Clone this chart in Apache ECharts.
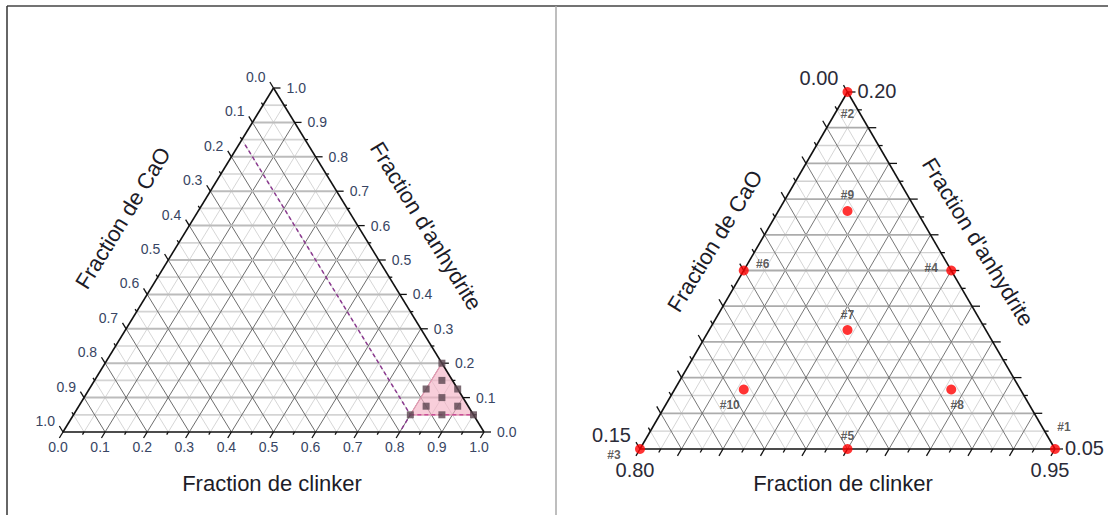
<!DOCTYPE html>
<html><head><meta charset="utf-8">
<script src="https://cdn.jsdelivr.net/npm/echarts@6/dist/echarts.min.js"></script>
<style>html,body{margin:0;padding:0;background:#fff}#chart{width:1108px;height:515px}</style>
</head><body><div id="chart"></div>
<script>
// ---------------- data ----------------
const pointNames = ['#1','#2','#3','#4','#5','#6','#7','#8','#9','#10'];
const clinker    = [0.95, 0.80, 0.80, 0.875, 0.875, 0.80, 0.85, 0.90, 0.825, 0.825];
const cao        = [0.00, 0.00, 0.15, 0.00, 0.075, 0.075, 0.05, 0.025, 0.025, 0.10];
const anhydrite  = [0.05, 0.20, 0.05, 0.125, 0.05, 0.125, 0.10, 0.075, 0.15, 0.075];

// tick labels, full diagram (same for all three axes)
const fullTickLabels = ['0.0','0.1','0.2','0.3','0.4','0.5','0.6','0.7','0.8','0.9','1.0'];
// tick labels, zoomed diagram
const zoomClinkerLabels   = ['0.80','0.95'];
const zoomCaoLabels       = ['0.00','0.15'];
const zoomAnhydriteLabels = ['0.05','0.20'];

// highlighted domain on the full diagram (vertices)
const regionClinker   = [0.80, 0.80, 0.95];
const regionCao       = [0.00, 0.15, 0.00];
const regionAnhydrite = [0.20, 0.05, 0.05];

// dashed boundary on the full diagram
const boundaryClinker   = [0.015, 0.80, 0.80];
const boundaryCao       = [0.15, 0.15, 0.20];
const boundaryAnhydrite = [0.835, 0.05, 0.00];

const titleClinker = 'Fraction de clinker';
const titleCaO = 'Fraction de CaO';
const titleAnhydrite = "Fraction d'anhydrite";

// ---------------- layout / helpers ----------------
const FONT = '"Liberation Sans", Arial, sans-serif';
const panels = [
  {c0:0, o0:0, a0:0, s:1, grid:{left:63, top:88, width:421, height:344}},
  {c0:0.80, o0:0, a0:0.05, s:0.15, grid:{left:640, top:92, width:415, height:357}}
];
function toXY(p, c, o, a){ const u=(c-p.c0)/p.s, w=(a-p.a0)/p.s; return [u+w/2, w]; }
function norm(x,y){ const l=Math.hypot(x,y); return [x/l,y/l]; }

function gridSegs(major){
  const segs=[];
  for(let k=1;k<20;k++){
    if((k%2===0)!==major) continue;
    const t=k/20;
    segs.push([t/2, t, 1-t/2, t, 0]);
    segs.push([t, 0, t+(1-t)/2, 1-t, 1]);
    segs.push([1-t, 0, (1-t)/2, 1-t, 1]);
  }
  return segs;
}
function tickData(){
  const d=[];
  for(let k=0;k<=20;k++){
    const t=k/20, m = k%2===0 ? 1 : 0;
    d.push([t, 0, 0, m]);
    d.push([(1-t)/2, 1-t, 1, m]);
    d.push([1-t/2, t, 2, m]);
  }
  return d;
}
function edgeSegs(){ return [[0,0,1,0,2],[1,0,0.5,1,2],[0.5,1,0,0,2]]; }

function segSeries(gi, segs, styleFn, z){
  return {type:'custom', coordinateSystem:'cartesian2d', xAxisIndex:gi, yAxisIndex:gi, silent:true, z:z,
    data:segs,
    renderItem(params, api){
      const p1=api.coord([api.value(0),api.value(1)]), p2=api.coord([api.value(2),api.value(3)]);
      return {type:'line', shape:{x1:p1[0],y1:p1[1],x2:p2[0],y2:p2[1]}, style:styleFn(api.value(4))};
    }};
}
function tickSeries(gi, majorLen, minorLen){
  return {type:'custom', coordinateSystem:'cartesian2d', xAxisIndex:gi, yAxisIndex:gi, silent:true, z:6,
    data:tickData(),
    renderItem(params, api){
      const p=api.coord([api.value(0),api.value(1)]);
      const T=api.coord([0.5,1]), BL=api.coord([0,0]), BR=api.coord([1,0]);
      const side=api.value(2), len=api.value(3)?majorLen:minorLen;
      let d;
      if(side===0) d=norm(BL[0]-T[0],BL[1]-T[1]);
      else if(side===1) d=norm(T[0]-BR[0],T[1]-BR[1]);
      else d=[1,0];
      return {type:'line', shape:{x1:p[0],y1:p[1],x2:p[0]+d[0]*len,y2:p[1]+d[1]*len}, style:{stroke:'#111',lineWidth:1.3}};
    }};
}
function labelSeries(gi, items, cfg){
  return {type:'custom', coordinateSystem:'cartesian2d', xAxisIndex:gi, yAxisIndex:gi, silent:true, z:7,
    data:items.map(it=>[it.x,it.y,it.side]),
    renderItem(params, api){
      const it=items[params.dataIndex];
      const p=api.coord([it.x,it.y]);
      const o=cfg.off[it.side];
      return {type:'text', x:p[0]+o[0], y:p[1]+o[1],
        style:{text:it.text, fill:cfg.color, font:cfg.font, align:o[2], verticalAlign:'middle'}};
    }};
}
function axisLabelItems(p, bottomLabels, leftLabels, rightLabels){
  const items=[];
  bottomLabels.forEach(l=>{ const u=(parseFloat(l)-p.c0)/p.s; items.push({x:u,y:0,side:0,text:l}); });
  leftLabels.forEach(l=>{ const v=(parseFloat(l)-p.o0)/p.s; items.push({x:(1-v)/2,y:1-v,side:1,text:l}); });
  rightLabels.forEach(l=>{ const w=(parseFloat(l)-p.a0)/p.s; items.push({x:1-w/2,y:w,side:2,text:l}); });
  return items;
}

const gridStyle0 = k => k===0 ? {stroke:'#bcbcbc',lineWidth:2} : {stroke:'#5c5c5c',lineWidth:0.9};
const gridMinor0 = k => k===0 ? {stroke:'#d4d4d4',lineWidth:1.7} : {stroke:'#cccccc',lineWidth:0.8};
const gridStyle1 = k => k===0 ? {stroke:'#acacac',lineWidth:1.8} : {stroke:'#686868',lineWidth:0.9};
const gridMinor1 = k => k===0 ? {stroke:'#d2d2d2',lineWidth:1.4} : {stroke:'#cacaca',lineWidth:0.8};
const edgeStyle = () => ({stroke:'#111',lineWidth:1.6});

const P0=panels[0], P1=panels[1];
const squaresXY = clinker.map((c,i)=>toXY(P0,c,cao[i],anhydrite[i]));
const dotsXY = clinker.map((c,i)=>toXY(P1,c,cao[i],anhydrite[i]));
const regionXY = regionClinker.map((c,i)=>toXY(P0,c,regionCao[i],regionAnhydrite[i]));
const boundaryXY = boundaryClinker.map((c,i)=>toXY(P0,c,boundaryCao[i],boundaryAnhydrite[i]));

const labelOffsets = {'#1':[9,-22],'#2':[0,22],'#3':[-26,6],'#4':[-20,-3],'#5':[0,-13],
  '#6':[19,-7],'#7':[0,-15],'#8':[6,15],'#9':[0,-16],'#10':[-14,15]};

const deg = Math.PI/180;
const titleFont = '22px '+FONT, titleColor = '#1c1c28';
const option = {
  animation:false,
  grid:[ Object.assign({}, P0.grid), Object.assign({}, P1.grid) ],
  xAxis:[{gridIndex:0,type:'value',min:0,max:1,show:false},{gridIndex:1,type:'value',min:0,max:1,show:false}],
  yAxis:[{gridIndex:0,type:'value',min:0,max:1,show:false},{gridIndex:1,type:'value',min:0,max:1,show:false}],
  graphic:[
    {type:'line', shape:{x1:7,y1:6,x2:1108,y2:6}, style:{stroke:'#444',lineWidth:1.5}},
    {type:'line', shape:{x1:7,y1:6,x2:7,y2:515}, style:{stroke:'#333',lineWidth:1.5}},
    {type:'line', shape:{x1:556,y1:6,x2:556,y2:515}, style:{stroke:'#a8a8a8',lineWidth:1.5}},
    {type:'text', x:272, y:483, style:{text:titleClinker, font:titleFont, fill:titleColor, align:'center', verticalAlign:'middle'}},
    {type:'text', x:123, y:218, rotation:58.5*deg, style:{text:titleCaO, font:titleFont, fill:titleColor, align:'center', verticalAlign:'middle'}},
    {type:'text', x:426, y:226, rotation:-58.5*deg, style:{text:titleAnhydrite, font:titleFont, fill:titleColor, align:'center', verticalAlign:'middle'}},
    {type:'text', x:843, y:483, style:{text:titleClinker, font:titleFont, fill:titleColor, align:'center', verticalAlign:'middle'}},
    {type:'text', x:715, y:241, rotation:58.5*deg, style:{text:titleCaO, font:titleFont, fill:titleColor, align:'center', verticalAlign:'middle'}},
    {type:'text', x:978, y:242, rotation:-58.5*deg, style:{text:titleAnhydrite, font:titleFont, fill:titleColor, align:'center', verticalAlign:'middle'}}
  ],
  series:[
    // full diagram
    segSeries(0, gridSegs(false), gridMinor0, 1),
    segSeries(0, gridSegs(true), gridStyle0, 2),
    {type:'custom', coordinateSystem:'cartesian2d', xAxisIndex:0, yAxisIndex:0, silent:true, z:3, data:[0],
      renderItem(params, api){
        return {type:'polygon', shape:{points:regionXY.map(q=>api.coord(q))},
          style:{fill:'rgba(244,176,196,0.62)', stroke:'#e79ab3', lineWidth:1.2}};
      }},
    {type:'line', xAxisIndex:0, yAxisIndex:0, z:4, data:boundaryXY, showSymbol:false, symbol:'none', silent:true,
      lineStyle:{color:'#8b3a8f', width:1.5, type:[4,3]}},
    {type:'line', xAxisIndex:0, yAxisIndex:0, z:4, data:[regionXY[1],regionXY[2]], showSymbol:false, symbol:'none', silent:true,
      lineStyle:{color:'#c94f98', width:1.4, type:[4,3]}},
    segSeries(0, edgeSegs(), edgeStyle, 5),
    tickSeries(0, 7, 3),
    {type:'scatter', xAxisIndex:0, yAxisIndex:0, z:8, data:squaresXY, symbol:'rect', symbolSize:7, silent:true,
      itemStyle:{color:'#5b4650'}},
    labelSeries(0, axisLabelItems(P0, fullTickLabels, fullTickLabels, fullTickLabels),
      {font:'14px '+FONT, color:'#384563', off:[[-5,15,'center'],[-8,-11,'right'],[13,0,'left']]}),
    // zoomed diagram
    segSeries(1, gridSegs(false), gridMinor1, 1),
    segSeries(1, gridSegs(true), gridStyle1, 2),
    segSeries(1, edgeSegs(), edgeStyle, 5),
    tickSeries(1, 8, 4),
    labelSeries(1, axisLabelItems(P1, zoomClinkerLabels, zoomCaoLabels, zoomAnhydriteLabels),
      {font:'20px '+FONT, color:'#2b2b38', off:[[-5,21,'center'],[-9,-14,'right'],[10,-1,'left']]}),
    {type:'scatter', xAxisIndex:1, yAxisIndex:1, z:8, symbol:'circle', symbolSize:10, silent:true,
      itemStyle:{color:'#ff0000'},
      data:dotsXY.map((xy,i)=>({value:xy, name:pointNames[i],
        label:{show:true, position:'inside', offset:labelOffsets[pointNames[i]], formatter:pointNames[i],
          color:'#333', fontFamily:FONT, fontWeight:'bold', fontSize:12}}))}
  ]
};
const chart = echarts.init(document.getElementById('chart'), null, {renderer:'svg'});
chart.setOption(option);
</script></body></html>
